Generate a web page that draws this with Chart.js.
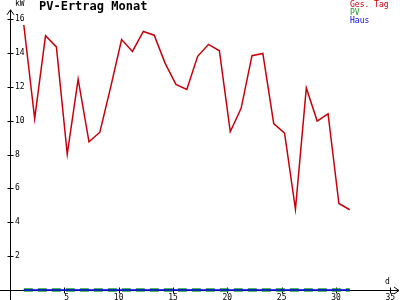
<!DOCTYPE html>
<html>
<head>
<meta charset="utf-8">
<script src="https://cdn.jsdelivr.net/npm/chart.js@4.4.0/dist/chart.umd.min.js"></script>
<style>
  html, body { margin: 0; padding: 0; background: #fff; }
</style>
</head>
<body>
<canvas id="pvChart" width="400" height="300"></canvas>
<script>
// Tagesertrag, gelesen aus dem Bild
const days = [1, 2, 3, 4, 5, 6, 7, 8, 9, 10, 11, 12, 13, 14, 15, 16,
              17, 18, 19, 20, 21, 22, 23, 24, 25, 26, 27, 28, 29, 30, 31];
const gesTag = [15.65, 10.12, 15.02, 14.36, 8.02, 12.45, 8.75, 9.32, 12.0, 14.79, 14.09, 15.27, 15.05, 13.4, 12.14, 11.85,
                13.8, 14.51, 14.13, 9.35, 10.73, 13.84, 13.97, 9.83, 9.26, 4.77, 11.93, 9.98, 10.41, 5.11, 4.74];
const pv   = [0, 0, 0, 0, 0, 0, 0, 0, 0, 0, 0, 0, 0, 0, 0, 0,
              0, 0, 0, 0, 0, 0, 0, 0, 0, 0, 0, 0, 0, 0, 0];
const haus = [0, 0, 0, 0, 0, 0, 0, 0, 0, 0, 0, 0, 0, 0, 0, 0,
              0, 0, 0, 0, 0, 0, 0, 0, 0, 0, 0, 0, 0, 0, 0];
const xTicks = [5, 10, 15, 20, 25, 30, 35];
const yTicks = [2, 4, 6, 8, 10, 12, 14, 16];

const DAY_SHIFT = 0.27;   // Werte liegen leicht rechts vom Tagesstrich
const MONO = '"DejaVu Sans Mono", monospace';

function toPoints(values) {
    return days.map((d, i) => ({ x: d + DAY_SHIFT, y: values[i] }));
}

// Achsen mit Pfeilen und Strichen über die Achse, wie im Original
const axesPlugin = {
    id: 'axes',
    beforeDatasetsDraw(chart) {
        const { ctx, chartArea, scales: { x, y } } = chart;
        const x0 = Math.round(x.getPixelForValue(0)) + 0.5;
        const y0 = Math.round(y.getPixelForValue(0)) + 0.5;
        ctx.save();
        ctx.strokeStyle = '#000';
        ctx.lineWidth = 1;
        ctx.beginPath();
        ctx.moveTo(x0, chartArea.top);
        ctx.lineTo(x0, chart.height);
        ctx.moveTo(0, y0);
        ctx.lineTo(chartArea.right, y0);
        // Pfeile
        ctx.moveTo(x0 - 3.5, chartArea.top + 5);
        ctx.lineTo(x0, chartArea.top);
        ctx.lineTo(x0 + 3.5, chartArea.top + 5);
        ctx.moveTo(chartArea.right - 5, y0 - 3.5);
        ctx.lineTo(chartArea.right, y0);
        ctx.lineTo(chartArea.right - 5, y0 + 3.5);
        yTicks.forEach(v => {
            const p = Math.round(y.getPixelForValue(v)) + 0.5;
            ctx.moveTo(x0 - 3, p);
            ctx.lineTo(x0 + 3, p);
        });
        xTicks.forEach(v => {
            const p = Math.round(x.getPixelForValue(v)) + 0.5;
            ctx.moveTo(p, y0 - 3);
            ctx.lineTo(p, y0 + 3);
        });
        ctx.stroke();
        ctx.restore();
    },
    afterDraw(chart) {
        const { ctx } = chart;
        ctx.save();
        ctx.textBaseline = 'top';
        ctx.textAlign = 'left';
        ctx.fillStyle = '#000';
        ctx.font = 'bold 12px ' + MONO;
        ctx.fillText('PV-Ertrag Monat', 39, 1);
        ctx.font = '8px ' + MONO;
        ctx.fillText('kW', 15, 0);
        ctx.fillText('d', 385, 278);
        // Legende oben rechts
        chart.data.datasets.forEach((ds, i) => {
            ctx.fillStyle = ds.borderColor;
            ctx.fillText(ds.label, 350, 1 + i * 8);
        });
        ctx.restore();
    }
};

const ctx = document.getElementById('pvChart').getContext('2d');
const pvChart = new Chart(ctx, {
    type: 'line',
    data: {
        datasets: [{
            label: 'Ges. Tag',
            data: toPoints(gesTag),
            borderColor: '#c8000a',
            borderWidth: 1.5,
            pointRadius: 0,
            tension: 0,
            order: 3
        }, {
            label: 'PV',
            data: toPoints(pv),
            borderColor: '#1fa01f',
            borderWidth: 3.5,
            borderDash: [9, 5],
            pointRadius: 0,
            order: 2,
            clip: 5
        }, {
            label: 'Haus',
            data: toPoints(haus),
            borderColor: '#0000f0',
            borderWidth: 1.5,
            pointRadius: 0,
            order: 1,
            clip: 5
        }]
    },
    options: {
        responsive: false,
        animation: false,
        layout: { padding: { left: 10, top: 1, right: 1, bottom: 0 } },
        plugins: {
            legend: { display: false },
            tooltip: { enabled: false }
        },
        scales: {
            x: {
                type: 'linear',
                min: 0,
                max: 35.8,
                grid: { display: false, drawTicks: false },
                border: { display: false },
                afterBuildTicks: s => { s.ticks = xTicks.map(v => ({ value: v })); },
                afterFit: s => { s.height = 10; },
                ticks: {
                    padding: 3,
                    maxRotation: 0,
                    autoSkip: false,
                    color: '#000',
                    font: { family: MONO, size: 8 },
                    callback: v => (v < 10 ? ' ' + v : '' + v)
                }
            },
            y: {
                min: 0,
                max: 16.55,
                grid: { display: false, drawTicks: false },
                border: { display: false },
                afterBuildTicks: s => { s.ticks = yTicks.map(v => ({ value: v })); },
                afterFit: s => { s.width = 0; },
                ticks: {
                    mirror: true,
                    padding: 5,
                    autoSkip: false,
                    color: '#000',
                    font: { family: MONO, size: 8 },
                    callback: v => '' + v
                }
            }
        }
    },
    plugins: [axesPlugin]
});
</script>
</body>
</html>
